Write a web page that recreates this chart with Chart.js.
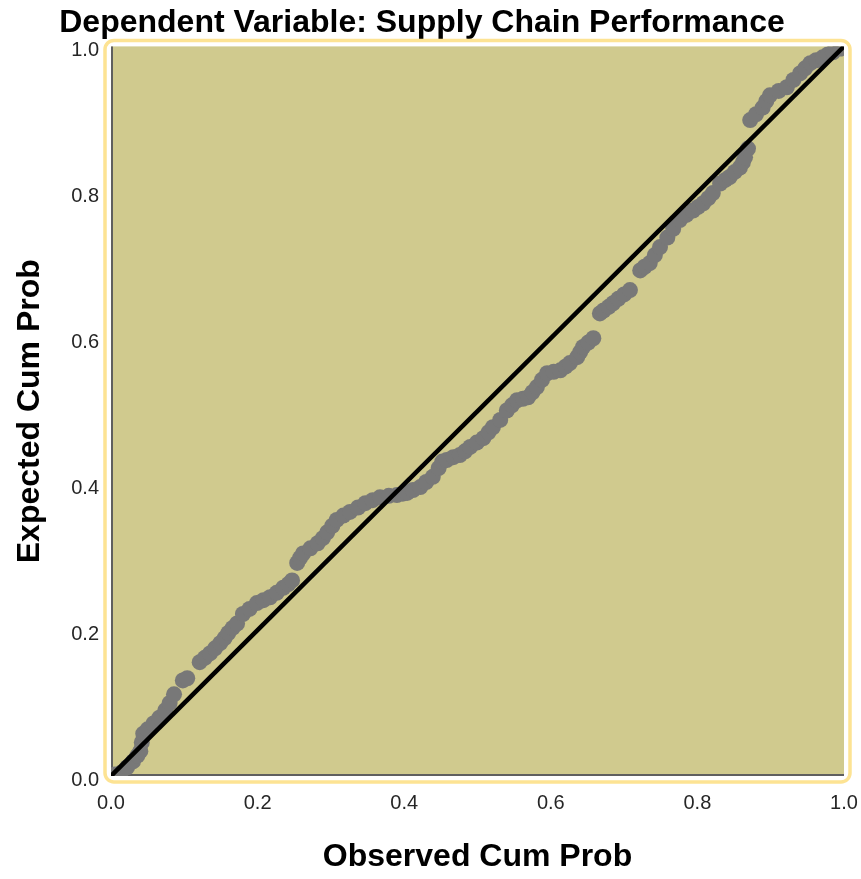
<!DOCTYPE html>
<html>
<head>
<meta charset="utf-8">
<script src="https://cdn.jsdelivr.net/npm/chart.js@4"></script>
<style>
  html, body { margin: 0; padding: 0; background: #fff; }
  #wrap { width: 861px; height: 879px; }
</style>
</head>
<body>
<div id="wrap"><canvas id="ppPlot" width="861" height="879"></canvas></div>
<script>
  // observed / expected cumulative probabilities
  const observedCumProb = [0.005, 0.013, 0.022, 0.030, 0.036, 0.040, 0.042, 0.044, 0.050, 0.058,
    0.066, 0.074, 0.080, 0.086, 0.098, 0.104, 0.121, 0.128, 0.135, 0.142,
    0.149, 0.155, 0.160, 0.166, 0.172, 0.180, 0.189, 0.199, 0.208, 0.217,
    0.226, 0.235, 0.242, 0.247, 0.254, 0.258, 0.262, 0.272, 0.282, 0.289,
    0.295, 0.302, 0.308, 0.317, 0.326, 0.337, 0.347, 0.357, 0.367, 0.379,
    0.390, 0.398, 0.404, 0.412, 0.422, 0.430, 0.439, 0.447, 0.452, 0.458,
    0.467, 0.476, 0.483, 0.490, 0.499, 0.508, 0.515, 0.521, 0.531, 0.540,
    0.547, 0.554, 0.562, 0.569, 0.575, 0.581, 0.588, 0.595, 0.604, 0.613,
    0.620, 0.626, 0.636, 0.640, 0.644, 0.651, 0.658, 0.667, 0.672, 0.679,
    0.685, 0.692, 0.700, 0.708, 0.722, 0.728, 0.735, 0.742, 0.749, 0.759,
    0.767, 0.776, 0.785, 0.794, 0.801, 0.808, 0.815, 0.821, 0.831, 0.838,
    0.844, 0.851, 0.858, 0.862, 0.865, 0.869, 0.872, 0.880, 0.889, 0.894,
    0.899, 0.911, 0.922, 0.931, 0.940, 0.947, 0.954, 0.962, 0.971, 0.978,
    0.985, 0.995];
  const expectedCumProb = [0.002, 0.004, 0.012, 0.020, 0.028, 0.034, 0.046, 0.058, 0.064, 0.072,
    0.080, 0.090, 0.100, 0.112, 0.131, 0.134, 0.156, 0.162, 0.168, 0.175,
    0.182, 0.189, 0.196, 0.203, 0.209, 0.222, 0.229, 0.237, 0.241, 0.245,
    0.251, 0.258, 0.263, 0.268, 0.292, 0.299, 0.305, 0.312, 0.319, 0.326,
    0.334, 0.343, 0.351, 0.357, 0.362, 0.368, 0.374, 0.378, 0.382, 0.384,
    0.385, 0.387, 0.388, 0.392, 0.396, 0.403, 0.410, 0.422, 0.431, 0.433,
    0.437, 0.440, 0.445, 0.451, 0.457, 0.463, 0.471, 0.478, 0.488, 0.501,
    0.508, 0.515, 0.517, 0.519, 0.526, 0.533, 0.543, 0.552, 0.554, 0.556,
    0.561, 0.566, 0.574, 0.581, 0.588, 0.594, 0.600, 0.634, 0.638, 0.643,
    0.648, 0.654, 0.660, 0.666, 0.693, 0.698, 0.703, 0.714, 0.725, 0.738,
    0.750, 0.762, 0.769, 0.775, 0.780, 0.785, 0.792, 0.799, 0.812, 0.817,
    0.821, 0.828, 0.834, 0.841, 0.848, 0.860, 0.899, 0.907, 0.916, 0.925,
    0.933, 0.939, 0.944, 0.954, 0.963, 0.970, 0.977, 0.981, 0.985, 0.989,
    0.992, 0.997];
  const diagonalLine = [0, 1]; // reference line y = x
  const tickValues = [0, 0.2, 0.4, 0.6, 0.8, 1.0];

  const chartTitle = 'Dependent Variable: Supply Chain Performance';
  const xTitle = 'Observed Cum Prob';
  const yTitle = 'Expected Cum Prob';

  const FONT = "'Liberation Sans', Arial, sans-serif";

  const points = observedCumProb.map((x, i) => ({ x: x, y: expectedCumProb[i] }));
  const linePts = diagonalLine.map(v => ({ x: v, y: v }));

  // olive plot background with the rounded yellow frame
  const plotFrame = {
      id: 'plotFrame',
      beforeDatasetsDraw(chart) {
          const { ctx, chartArea: a } = chart;
          ctx.save();
          // yellow rounded outline
          ctx.strokeStyle = '#fde393';
          ctx.lineWidth = 3.5;
          ctx.beginPath();
          ctx.roundRect(a.left - 6, a.top - 6, a.width + 12, a.height + 12, 9);
          ctx.stroke();
          // olive fill
          ctx.fillStyle = '#d0ca8e';
          ctx.fillRect(a.left, a.top, a.width, a.height);
          // dark edge on left and bottom
          ctx.strokeStyle = '#5f5f5f';
          ctx.lineWidth = 2;
          ctx.beginPath();
          ctx.moveTo(a.left + 1, a.top);
          ctx.lineTo(a.left + 1, a.bottom - 1);
          ctx.lineTo(a.right, a.bottom - 1);
          ctx.stroke();
          ctx.restore();
      }
  };

  new Chart(document.getElementById('ppPlot'), {
      type: 'scatter',
      data: {
          datasets: [
              {
                  type: 'line',
                  label: 'y = x',
                  data: linePts,
                  borderColor: '#000',
                  borderWidth: 4.5,
                  pointRadius: 0,
                  fill: false,
                  order: 0
              },
              {
                  label: 'Cum Prob',
                  data: points,
                  backgroundColor: '#787878',
                  borderWidth: 0,
                  pointRadius: 8,
                  order: 1
              }
          ]
      },
      plugins: [plotFrame],
      options: {
          responsive: false,
          animation: false,
          layout: { padding: { left: 0, right: 17, top: 0, bottom: 0 } },
          plugins: {
              legend: { display: false },
              tooltip: { enabled: false },
              title: {
                  display: true,
                  text: chartTitle,
                  color: '#000',
                  font: { family: FONT, size: 32, weight: 'bold' },
                  padding: { top: 4, bottom: 4 }
              }
          },
          scales: {
              x: {
                  type: 'linear',
                  min: 0,
                  max: 1,
                  afterBuildTicks: s => { s.ticks = tickValues.map(v => ({ value: v })); },
                  afterFit: s => { s.height = 103; s.paddingLeft = 0; s.paddingRight = 0; },
                  grid: { display: false, drawTicks: false },
                  border: { display: false },
                  ticks: {
                      color: '#262626',
                      padding: 15,
                      font: { family: FONT, size: 20 },
                      callback: v => v.toFixed(1)
                  },
                  title: {
                      display: true,
                      text: xTitle,
                      color: '#000',
                      font: { family: FONT, size: 32, weight: 'bold' },
                      padding: { top: 0, bottom: 3 }
                  }
              },
              y: {
                  type: 'linear',
                  min: 0,
                  max: 1,
                  afterBuildTicks: s => { s.ticks = tickValues.map(v => ({ value: v })); },
                  afterFit: s => { s.width = 111; s.paddingTop = 0; s.paddingBottom = 0; },
                  grid: { display: false, drawTicks: false },
                  border: { display: false },
                  ticks: {
                      color: '#262626',
                      padding: 12,
                      labelOffset: 4,
                      font: { family: FONT, size: 20 },
                      callback: v => v.toFixed(1)
                  },
                  title: {
                      display: true,
                      text: yTitle,
                      color: '#000',
                      font: { family: FONT, size: 32, weight: 'bold' },
                      padding: { top: 11, bottom: 0 }
                  }
              }
          }
      }
  });
</script>
</body>
</html>
